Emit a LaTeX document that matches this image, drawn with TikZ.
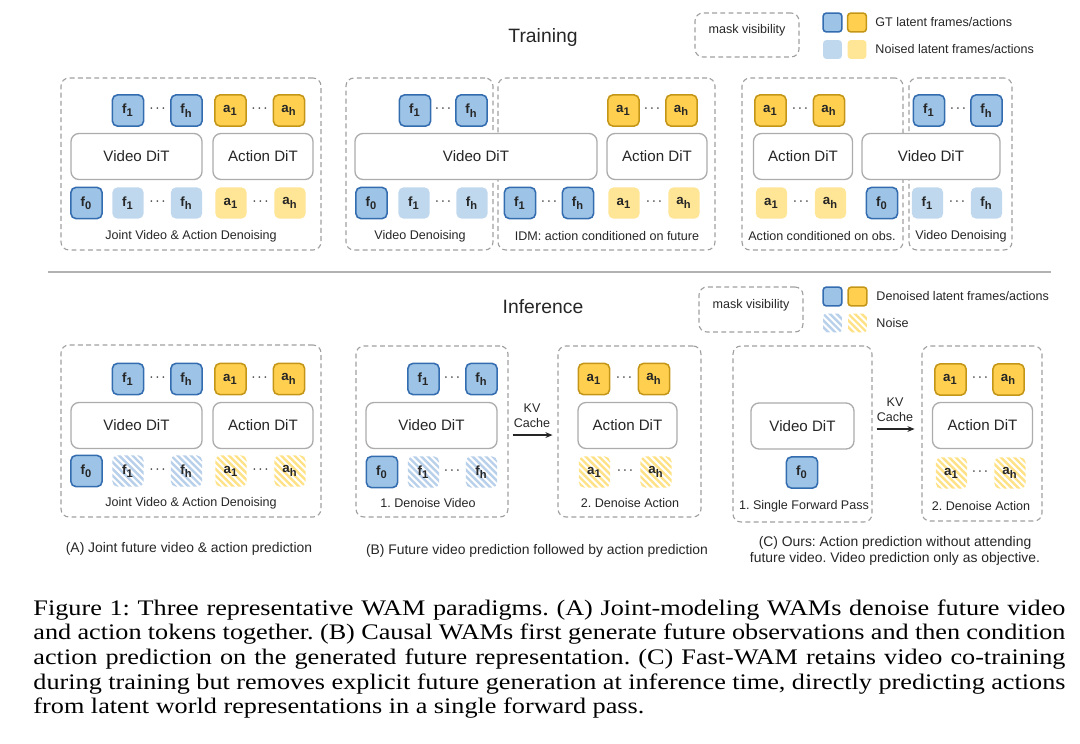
\documentclass[tikz,border=0pt]{standalone}
\usepackage{fontspec}
\setmainfont{Liberation Serif}
\setsansfont{Liberation Sans}
\newfontfamily\capfont[FakeStretch=1.18]{Liberation Serif}
\usepackage{tikz}
\usetikzlibrary{arrows.meta, positioning, fit, calc}
\definecolor{colGT}{RGB}{157,195,230}
\definecolor{colGTd}{RGB}{52,108,176}
\definecolor{colNz}{RGB}{192,216,238}
\definecolor{colAct}{RGB}{255,208,80}
\definecolor{colActd}{RGB}{196,150,24}
\definecolor{colActNz}{RGB}{255,229,150}
\definecolor{colHatchF}{RGB}{184,208,234}
\definecolor{colHatchA}{RGB}{255,226,135}
\newcommand{\tkn}[2]{\textbf{#1\textsubscript{#2}}}
\newcommand{\tdots}{\textperiodcentered\kern0.5pt\textperiodcentered\kern0.5pt\textperiodcentered}
\frenchspacing

\begin{document}
\begin{tikzpicture}[
  x=0.45pt, y=-0.45pt,
  every node/.style={text=black!85},
  arr/.style={-{Stealth[length=3.2pt, width=2.6pt]}, line width=0.55pt, black!85},
  panel/.style={draw=gray!75, dash pattern=on 2.2pt off 1.5pt, line width=0.5pt,
                rounded corners=3.6pt, inner sep=0pt},
  dit/.style={draw=gray!65, line width=0.6pt, rounded corners=3.6pt, fill=white,
              minimum height=20.7pt, minimum width=#1*0.45pt, inner sep=0pt,
              font=\sffamily\fontsize{6.8}{8}\selectfont},
  tok/.style={minimum width=14pt, minimum height=14pt, inner sep=0pt, rounded corners=2.2pt,
              font=\sffamily\bfseries\fontsize{6}{7}\selectfont},
  gtf/.style={tok, fill=colGT, draw=colGTd, line width=0.7pt},
  gta/.style={tok, fill=colAct, draw=colActd, line width=0.7pt},
  nzf/.style={tok, fill=colNz},
  nza/.style={tok, fill=colActNz},
  hatch/.style={path picture={\foreach \k in {-24,-21,...,24}
      \draw[#1, line width=1.1pt] ([xshift=\k pt]path picture bounding box.center) ++(-12pt,12pt) -- ++(24pt,-24pt);}},
  hzf/.style={tok, hatch=colHatchF},
  hza/.style={tok, hatch=colHatchA},
  dots/.style={inner sep=0pt, text=black!75, font=\sffamily\fontsize{6.5}{7}\selectfont},
  lbl/.style={inner sep=0pt, font=\sffamily\fontsize{5.65}{6.8}\selectfont},
  sub/.style={inner sep=0pt, align=center, font=\sffamily\fontsize{6.25}{7.2}\selectfont},
  ttl/.style={inner sep=0pt, font=\sffamily\fontsize{8.7}{10}\selectfont},
  lgsq/.style={minimum width=8.5pt, minimum height=8.5pt, rounded corners=1.5pt},
  capl/.style={anchor=base west, inner sep=0pt, text=black, font=\capfont\fontsize{10}{11}\selectfont},
]
\useasboundingbox (0,0) rectangle (1080,743);

% Titles
\node[ttl] (ttlTrain) at (543,37) {Training};
\node[ttl] (ttlInfer) at (543,307) {Inference};

% Legend (training)
\node[panel, lbl, fit={(695,13) (799,57)}] (lgTmask) {mask visibility};
\node[gtf, lgsq] (lgTf) at (832.5,22.5) {};
\node[gta, lgsq] (lgTa) at (857,22.5) {};
\node[nzf, lgsq] (lgTnf) at (832.5,49.5) {};
\node[nza, lgsq] (lgTna) at (857,49.5) {};
\node[lbl, anchor=west] (lgTgt) at (875,22.5) {GT latent frames/actions};
\node[lbl, anchor=west] (lgTnz) at (875,49.5) {Noised latent frames/actions};

% Training (A): joint denoising
\node[panel, fit={(61,78) (321,250)}] (tA) {};
\foreach \x/\sb in {128/1, 186.5/h} \node[gtf] (tAf\sb) at (\x,110.5) {\tkn{f}{\sb}};
\foreach \x/\sb in {230.5/1, 289/h} \node[gta] (tAa\sb) at (\x,110.5) {\tkn{a}{\sb}};
\node[dit=131] (tAvid) at (136.5,156.5) {Video DiT};
\node[dit=100] (tAact) at (263,156.5) {Action DiT};
\node[gtf] (tAf0) at (86.5,203) {\tkn{f}{0}};
\foreach \x/\sb in {128/1, 186.5/h} \node[nzf] (tAnf\sb) at (\x,203) {\tkn{f}{\sb}};
\foreach \x/\sb in {231/1, 290/h} \node[nza] (tAna\sb) at (\x,203) {\tkn{a}{\sb}};
\foreach \x/\y [count=\i] in {157.5/110.5, 259.5/110.5, 157.5/203, 260.5/203}
  \node[dots] (tAd\i) at (\x,\y) {\tdots};
\node[lbl] (tAlab) at (191,236) {Joint Video \& Action Denoising};

% Training (B): video denoising + IDM
\node[panel, fit={(346,78) (493,250)}] (tBl) {};
\node[panel, fit={(498,78) (715,250)}] (tBr) {};
\foreach \x/\sb in {415/1, 471.5/h} \node[gtf] (tBf\sb) at (\x,110.5) {\tkn{f}{\sb}};
\foreach \x/\sb in {623.5/1, 681.5/h} \node[gta] (tBa\sb) at (\x,110.5) {\tkn{a}{\sb}};
\node[dit=242] (tBvid) at (476,156.5) {Video DiT};
\node[dit=100] (tBact) at (657,156.5) {Action DiT};
\node[gtf] (tBf0) at (371.5,203) {\tkn{f}{0}};
\foreach \x/\sb in {414/1, 472/h} \node[nzf] (tBnf\sb) at (\x,203) {\tkn{f}{\sb}};
\foreach \x/\sb in {520/1, 578/h} \node[gtf] (tBcf\sb) at (\x,203) {\tkn{f}{\sb}};
\foreach \x/\sb in {624/1, 684/h} \node[nza] (tBna\sb) at (\x,203) {\tkn{a}{\sb}};
\foreach \x/\y [count=\i] in {443/110.5, 652/110.5, 443/203, 549/203, 654/203}
  \node[dots] (tBd\i) at (\x,\y) {\tdots};
\node[lbl] (tBlab1) at (420,236) {Video Denoising};
\node[lbl] (tBlab2) at (607,236) {IDM: action conditioned on future};

% Training (C): ours
\node[panel, fit={(742,78) (903,250)}] (tCl) {};
\node[panel, fit={(909,78) (1012,250)}] (tCr) {};
\foreach \x/\sb in {770.5/1, 829/h} \node[gta] (tCa\sb) at (\x,110.5) {\tkn{a}{\sb}};
\foreach \x/\sb in {929/1, 986.5/h} \node[gtf] (tCf\sb) at (\x,110.5) {\tkn{f}{\sb}};
\node[dit=99] (tCact) at (803,156.5) {Action DiT};
\node[dit=138] (tCvid) at (931,156.5) {Video DiT};
\foreach \x/\sb in {771.5/1, 830.5/h} \node[nza] (tCna\sb) at (\x,203) {\tkn{a}{\sb}};
\node[gtf] (tCf0) at (882,203) {\tkn{f}{0}};
\foreach \x/\sb in {927.5/1, 986.5/h} \node[nzf] (tCnf\sb) at (\x,203) {\tkn{f}{\sb}};
\foreach \x/\y [count=\i] in {800/110.5, 958/110.5, 801/203, 957/203}
  \node[dots] (tCd\i) at (\x,\y) {\tdots};
\node[lbl] (tClab1) at (822,236) {Action conditioned on obs.};
\node[lbl] (tClab2) at (961,236) {Video Denoising};

% Separator
\coordinate (sepL) at (48,272);
\coordinate (sepR) at (1051,272);
\draw[gray!60, line width=0.6pt] (sepL) -- (sepR);

% Legend (inference)
\node[panel, lbl, fit={(699,287) (803,332)}] (lgImask) {mask visibility};
\node[gtf, lgsq] (lgIf) at (832.5,296.5) {};
\node[gta, lgsq] (lgIa) at (857.5,296.5) {};
\node[hzf, lgsq] (lgInf) at (832.5,323) {};
\node[hza, lgsq] (lgIna) at (857.5,323) {};
\node[lbl, anchor=west] (lgIdn) at (876,296.5) {Denoised latent frames/actions};
\node[lbl, anchor=west] (lgInz) at (876,323) {Noise};

% Inference (A)
\node[panel, fit={(61,345) (321,517)}] (iA) {};
\foreach \x/\sb in {128/1, 186.5/h} \node[gtf] (iAf\sb) at (\x,379) {\tkn{f}{\sb}};
\foreach \x/\sb in {230.5/1, 289/h} \node[gta] (iAa\sb) at (\x,379) {\tkn{a}{\sb}};
\node[dit=131] (iAvid) at (136.5,425.5) {Video DiT};
\node[dit=100] (iAact) at (263,425.5) {Action DiT};
\node[gtf] (iAf0) at (86.5,471) {\tkn{f}{0}};
\foreach \x/\sb in {128/1, 186.5/h} \node[hzf] (iAnf\sb) at (\x,471) {\tkn{f}{\sb}};
\foreach \x/\sb in {231/1, 290/h} \node[hza] (iAna\sb) at (\x,471) {\tkn{a}{\sb}};
\foreach \x/\y [count=\i] in {157.5/379, 259.5/379, 157.5/471, 260.5/471}
  \node[dots] (iAd\i) at (\x,\y) {\tdots};
\node[lbl] (iAlab) at (191,503) {Joint Video \& Action Denoising};
\node[sub] (iAsub) at (189,549) {(A) Joint future video \& action prediction};

% Inference (B)
\node[panel, fit={(356,346) (508,517)}] (iBl) {};
\node[panel, fit={(558,346) (701,517)}] (iBr) {};
\foreach \x/\sb in {423.5/1, 481.5/h} \node[gtf] (iBf\sb) at (\x,379) {\tkn{f}{\sb}};
\node[dit=131] (iBvid) at (431.5,425.5) {Video DiT};
\node[gtf] (iBf0) at (382,472) {\tkn{f}{0}};
\foreach \x/\sb in {423.5/1, 481.5/h} \node[hzf] (iBnf\sb) at (\x,472) {\tkn{f}{\sb}};
\foreach \x/\sb in {594/1, 654/h} \node[gta] (iBa\sb) at (\x,379) {\tkn{a}{\sb}};
\node[dit=99] (iBact) at (627.5,425.5) {Action DiT};
\foreach \x/\sb in {594.5/1, 656/h} \node[hza] (iBna\sb) at (\x,472) {\tkn{a}{\sb}};
\foreach \x/\y [count=\i] in {452/379, 452/472, 624/379, 625/472}
  \node[dots] (iBd\i) at (\x,\y) {\tdots};
\node[lbl] (iBlab1) at (428,503) {1. Denoise Video};
\node[lbl] (iBlab2) at (630,503) {2. Denoise Action};
\node[lbl, align=center] (iBkv) at (532,415.5) {KV\\Cache};
\draw[arr, shorten <=1.8pt, shorten >=2.2pt] ([yshift=-1.6pt]iBl.east) -- ([yshift=-1.6pt]iBl.east -| iBr.west);
\node[sub] (iBsub) at (537,551) {(B) Future video prediction followed by action prediction};

% Inference (C): ours
\node[panel, fit={(733,346) (872,522)}] (iCl) {};
\node[panel, fit={(922,346) (1042,521)}] (iCr) {};
\node[dit=103] (iCvid) at (802.5,426) {Video DiT};
\node[gtf] (iCf0) at (802,472.5) {\tkn{f}{0}};
\node[lbl] (iClab1) at (804,506) {1. Single Forward Pass};
\foreach \x/\sb in {950.5/1, 1008.5/h} \node[gta] (iCa\sb) at (\x,379.5) {\tkn{a}{\sb}};
\node[dit=100] (iCact) at (982.5,425.5) {Action DiT};
\foreach \x/\sb in {951.5/1, 1010/h} \node[hza] (iCna\sb) at (\x,473) {\tkn{a}{\sb}};
\foreach \x/\y [count=\i] in {980/379.5, 980/473}
  \node[dots] (iCd\i) at (\x,\y) {\tdots};
\node[lbl] (iClab2) at (981,506) {2. Denoise Action};
\node[lbl, align=center] (iCkv) at (895,409.5) {KV\\Cache};
\draw[arr, shorten <=1.8pt, shorten >=3.1pt] ([yshift=2.25pt]iCl.east) -- ([yshift=2.25pt]iCl.east -| iCr.west);
\node[sub] (iCsub) at (895,551) {(C) Ours: Action prediction without attending\\future video. Video prediction only as objective.};

% Caption
\node[capl] (cap1) at (33,615) {\makebox[464.4pt][s]{Figure 1: Three representative WAM paradigms. (A) Joint-modeling WAMs denoise future video}};
\node[capl] (cap2) at (33,639.7) {\makebox[464.4pt][s]{and action tokens together. (B) Causal WAMs first generate future observations and then condition}};
\node[capl] (cap3) at (33,664.4) {\makebox[464.4pt][s]{action prediction on the generated future representation. (C) Fast-WAM retains video co-training}};
\node[capl] (cap4) at (33,689.1) {\makebox[464.4pt][s]{during training but removes explicit future generation at inference time, directly predicting actions}};
\node[capl] (cap5) at (33,713.8) {from latent world representations in a single forward pass.};

\end{tikzpicture}
\end{document}
